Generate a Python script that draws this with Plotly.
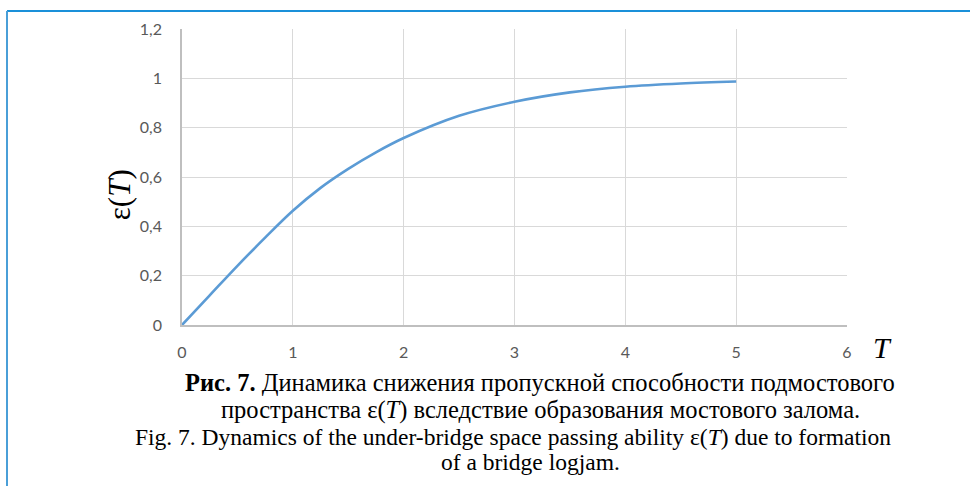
import plotly.graph_objects as go

T_vals = [0, 0.25, 0.5, 0.75, 1, 1.25, 1.5, 1.75, 2, 2.5, 3, 3.5, 4, 4.5, 5]
eps_vals = [0, 0.12, 0.24, 0.354, 0.463, 0.556, 0.633, 0.70, 0.758, 0.848, 0.905, 0.943, 0.966, 0.979, 0.987]
x_ticks = [0, 1, 2, 3, 4, 5, 6]
y_ticks = [0, 0.2, 0.4, 0.6, 0.8, 1.0, 1.2]
y_tick_text = ["0", "0,2", "0,4", "0,6", "0,8", "1", "1,2"]

caption_ru_1 = "<b>Рис. 7.</b> Динамика снижения пропускной способности подмостового"
caption_ru_2 = "пространства ε(<i>T</i>) вследствие образования мостового залома."
caption_en_1 = "Fig. 7. Dynamics of the under-bridge space passing ability ε(<i>T</i>) due to formation"
caption_en_2 = "of a bridge logjam."

W, H = 970, 486
L, R, TOP, BOT = 182, 847, 28.6, 325

def px(x):
    return (x - L) / (R - L)

def py(y):
    return (BOT - y) / (BOT - TOP)

fig = go.Figure()
fig.add_trace(go.Scatter(
    x=T_vals, y=eps_vals, mode="lines",
    line=dict(color="#5b9bd5", width=2.6, shape="spline", smoothing=1.0),
    showlegend=False, hoverinfo="skip",
))

tick_font = dict(family="Lato, Open Sans, sans-serif", size=16, color="#595959")
fig.update_layout(
    width=W, height=H,
    margin=dict(l=L, r=W - R, t=TOP, b=H - BOT, autoexpand=False),
    paper_bgcolor="white", plot_bgcolor="white",
    xaxis=dict(range=[0, 6], tickvals=x_ticks, ticktext=[str(v) for v in x_ticks],
               showgrid=True, gridcolor="#d9d9d9", gridwidth=1,
               showline=True, linecolor="#bfbfbf", linewidth=1.5,
               zeroline=False, ticks="", tickfont=tick_font, ticklabelstandoff=12,
               automargin=False),
    yaxis=dict(range=[0, 1.2], tickvals=y_ticks, ticktext=y_tick_text,
               showgrid=True, gridcolor="#d9d9d9", gridwidth=1,
               showline=True, linecolor="#bfbfbf", linewidth=1.5,
               zeroline=False, ticks="", tickfont=tick_font, ticklabelstandoff=15,
               automargin=False),
)

serif = "Liberation Serif, DejaVu Serif, serif"
ann = []
ann.append(dict(x=px(119), y=py(195), xref="paper", yref="paper", text="ε(<i>T</i>)",
                textangle=-90, showarrow=False, font=dict(family=serif, size=31, color="black"),
                xanchor="center", yanchor="middle"))
ann.append(dict(x=px(882), y=py(348), xref="paper", yref="paper", text="<i>T</i>",
                showarrow=False, font=dict(family=serif, size=30, color="black"),
                xanchor="center", yanchor="middle"))
ann.append(dict(x=px(540), y=py(383), xref="paper", yref="paper", text=caption_ru_1,
                showarrow=False, font=dict(family=serif, size=24.5, color="black"),
                xanchor="center", yanchor="middle"))
ann.append(dict(x=px(540), y=py(410), xref="paper", yref="paper", text=caption_ru_2,
                showarrow=False, font=dict(family=serif, size=24.5, color="black"),
                xanchor="center", yanchor="middle"))
ann.append(dict(x=px(513), y=py(437), xref="paper", yref="paper", text=caption_en_1,
                showarrow=False, font=dict(family=serif, size=23.5, color="black"),
                xanchor="center", yanchor="middle"))
ann.append(dict(x=px(530), y=py(462), xref="paper", yref="paper", text=caption_en_2,
                showarrow=False, font=dict(family=serif, size=23.5, color="black"),
                xanchor="center", yanchor="middle"))
fig.update_layout(annotations=ann)

# frame border
fig.add_shape(type="line", xref="paper", yref="paper",
              x0=px(7), x1=px(975), y0=py(10.5), y1=py(10.5),
              line=dict(color="#1a90d9", width=2))
fig.add_shape(type="line", xref="paper", yref="paper",
              x0=px(7), x1=px(7), y0=py(10.5), y1=py(495),
              line=dict(color="#4a9fd8", width=2))

fig.write_html("out.html", config={"displayModeBar": False},
               post_script="document.body.style.margin='0px';document.body.style.overflow='hidden';")
